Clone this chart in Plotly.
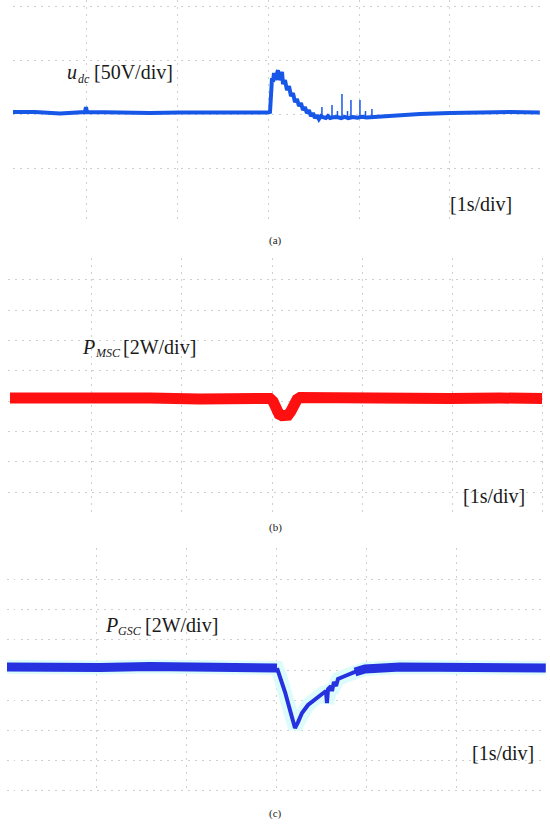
import plotly.graph_objects as go

W, H = 550, 829

# ---------------- data ----------------
# (a) DC-link voltage, time in s (1 s/div), voltage offset in V (50 V/div)
t_a = [0.185, 0.427, 0.702, 0.868, 0.978, 0.989, 1.0, 1.364, 1.694, 2.025, 2.355, 2.686, 2.994, 3.017,
       3.028, 3.039, 3.050, 3.061, 3.072, 3.083, 3.105, 3.116, 3.127, 3.149, 3.160, 3.182, 3.204, 3.226,
       3.248, 3.270, 3.292, 3.314, 3.336, 3.358, 3.380, 3.402, 3.424, 3.446, 3.468, 3.490, 3.512, 3.534,
       3.556, 3.578, 3.600, 3.633, 3.655, 3.678, 3.711, 3.755, 3.800, 3.840, 3.880, 3.930, 3.980,
       4.030, 4.080, 4.140, 4.200, 4.284, 4.449, 4.669, 5.0, 5.331, 5.661, 5.99]
u_dc = [1.9, 1.9, 0.5, 1.4, 1.9, 6.5, 1.9, 1.4, 0.9, 1.4, 1.4, 0.9, 1.4, 1.9,
        25.9, 33.3, 29.6, 38.0, 31.5, 35.2, 40.7, 31.5, 35.2, 38.9, 27.8, 31.5, 22.2, 25.9,
        16.7, 19.4, 11.1, 13.9, 7.4, 10.2, 3.7, 6.5, 0.9, 3.7, -1.9, 0.9, -3.7, -0.9,
        -4.6, -1.9, -2.8, -3.7, -1.9, -3.7, -3.0, -2.8, -3.7, -2.5, -3.7, -2.8, -3.5,
        -2.6, -3.2, -2.8, -2.4, -1.9, -0.9, 0.0, 0.9, 1.4, 1.9, 1.4]

# thin ripple spikes on u_dc after the transient
t_spike = [3.589, 3.700, 3.760, 3.810, 3.871, 3.909, 4.008, 4.069, 4.140]
u_spike_base = [-2.0, -3.0, -3.0, -3.5, -3.0, -3.0, -3.0, -3.0, -2.8]
u_spike_top = [6.5, 8.3, 2.8, 18.5, 2.8, 13.0, 13.0, 2.8, 4.6]

# (b) machine-side converter power, W (2 W/div)
t_b = [0.089, 0.533, 1.089, 1.644, 2.2, 2.644, 2.978, 3.011, 3.044, 3.078, 3.111, 3.144, 3.178,
       3.211, 3.244, 3.278, 3.311, 3.533, 3.978, 4.422, 4.978, 5.533, 6.0]
p_msc = [0.21, 0.24, 0.18, 0.21, 0.15, 0.18, 0.18, 0.0, -0.5, -0.85, -0.95, -0.98, -0.92,
         -0.65, -0.2, 0.12, 0.24, 0.21, 0.24, 0.21, 0.18, 0.21, 0.18]

# (c) grid-side converter power, W (2 W/div)
t_c = [0.0, 0.479, 1.036, 1.592, 2.149, 2.706, 2.984, 3.007, 3.040, 3.096, 3.151, 3.207, 3.241,
       3.285, 3.352, 3.430, 3.508, 3.552, 3.563, 3.575, 3.608, 3.619, 3.641, 3.664, 3.686, 3.764,
       3.875, 3.987, 4.376, 4.933, 5.490, 6.0]
p_gsc = [0.2, 0.13, 0.17, 0.23, 0.2, 0.17, 0.2, 0.13, -0.4, -1.47, -2.67, -3.87, -3.47,
         -2.87, -2.33, -1.93, -1.6, -1.4, -2.2, -1.27, -1.07, -1.4, -0.8, -1.07, -0.6, -0.4,
         -0.13, 0.07, 0.2, 0.13, 0.1, 0.13]

x_ticks_a = [1, 2, 3, 4, 5]
y_ticks_a = [-50, 0, 50, 100]
x_ticks_b = [1, 2, 3, 4, 5, 6]
y_ticks_b = [-6, -4, -2, 0, 2, 4, 6, 8]
x_ticks_c = [0, 1, 2, 3, 4, 5, 6]
y_ticks_c = [-8, -6, -4, -2, 0, 2, 4, 6]

# ---------------- figure ----------------
def px(x):
    return x / W

def py(y):
    return 1 - y / H

fig = go.Figure()

BLUE_A = "#1757e8"
RED_B = "#ff1010"
BLUE_C = "#2631e0"
HALO = "#dcfbfb"

fig.add_trace(go.Scatter(x=t_a, y=u_dc, mode="lines", line=dict(color=BLUE_A, width=4),
                         xaxis="x", yaxis="y", hoverinfo="skip"))
sx, sy = [], []
for t, b, top in zip(t_spike, u_spike_base, u_spike_top):
    sx += [t, t, None]
    sy += [b, top, None]
fig.add_trace(go.Scatter(x=sx, y=sy, mode="lines", line=dict(color=BLUE_A, width=1.5),
                         xaxis="x", yaxis="y", hoverinfo="skip"))

fig.add_trace(go.Scatter(x=t_b, y=p_msc, mode="lines", line=dict(color=RED_B, width=11),
                         xaxis="x2", yaxis="y2", hoverinfo="skip"))

# (c): halo, then the baseline segments thick and the transient thin
dip0, dip1 = 7, 27
fig.add_trace(go.Scatter(x=t_c, y=p_gsc, mode="lines", line=dict(color=HALO, width=14),
                         xaxis="x3", yaxis="y3", hoverinfo="skip"))
fig.add_trace(go.Scatter(x=t_c[:dip0 + 1], y=p_gsc[:dip0 + 1], mode="lines",
                         line=dict(color=BLUE_C, width=9), xaxis="x3", yaxis="y3", hoverinfo="skip"))
fig.add_trace(go.Scatter(x=t_c[dip0:dip1 + 1], y=p_gsc[dip0:dip1 + 1], mode="lines",
                         line=dict(color=BLUE_C, width=4), xaxis="x3", yaxis="y3", hoverinfo="skip"))
fig.add_trace(go.Scatter(x=t_c[dip1 - 1:], y=p_gsc[dip1 - 1:], mode="lines",
                         line=dict(color=BLUE_C, width=9), xaxis="x3", yaxis="y3", hoverinfo="skip"))

grid = dict(showgrid=True, gridcolor="#cfcfcf", gridwidth=1, griddash="2px,5px",
            zeroline=False, showline=False, showticklabels=False, ticks="", fixedrange=True)

fig.update_layout(
    width=W, height=H, margin=dict(l=0, r=0, t=0, b=0),
    paper_bgcolor="white", plot_bgcolor="white", showlegend=False,
    xaxis=dict(domain=[px(13), px(540)], range=[0.185, 5.992], tickvals=x_ticks_a, anchor="y", **grid),
    yaxis=dict(domain=[py(220), py(0)], range=[-98.1, 105.6], tickvals=y_ticks_a, anchor="x", **grid),
    xaxis2=dict(domain=[px(8), px(546)], range=[0.067, 6.044], tickvals=x_ticks_b, anchor="y2", **grid),
    yaxis2=dict(domain=[py(515), py(258)], range=[-7.51, 9.45], tickvals=y_ticks_b, anchor="x2", **grid),
    xaxis3=dict(domain=[px(6.5), px(546.3)], range=[-0.0056, 6.0056], tickvals=x_ticks_c, anchor="y3", **grid),
    yaxis3=dict(domain=[py(792), py(548)], range=[-8.13, 8.13], tickvals=y_ticks_c, anchor="x3", **grid),
)

FONT = "Liberation Serif"
def note(text, x, y, size=20, xanchor="left"):
    fig.add_annotation(text=text, x=px(x), y=py(y), xref="paper", yref="paper",
                       xanchor=xanchor, yanchor="middle", showarrow=False, borderpad=0,
                       font=dict(family=FONT, size=size, color="#1a1a1a"))

note("<i>u</i>", 66, 72)
note("<i>dc</i>", 77, 79, size=12)
note("[50V/div]", 93, 72)
note("<i>P</i>", 81, 347)
note("<i>MSC</i>", 94, 353, size=12)
note("[2W/div]", 122, 347)
note("<i>P</i>", 104, 625)
note("<i>GSC</i>", 117, 631, size=12)
note("[2W/div]", 144, 625)
note("[1s/div]", 513, 204, xanchor="right")
note("[1s/div]", 526, 496, xanchor="right")
note("[1s/div]", 535, 753, xanchor="right")
note("(a)", 275, 240, size=11, xanchor="center")
note("(b)", 275, 527, size=11, xanchor="center")
note("(c)", 275, 813, size=11, xanchor="center")

fig.write_html("out.html", config={"displayModeBar": False, "staticPlot": True},
               post_script="document.body.style.margin='0';document.body.style.overflow='hidden';")
